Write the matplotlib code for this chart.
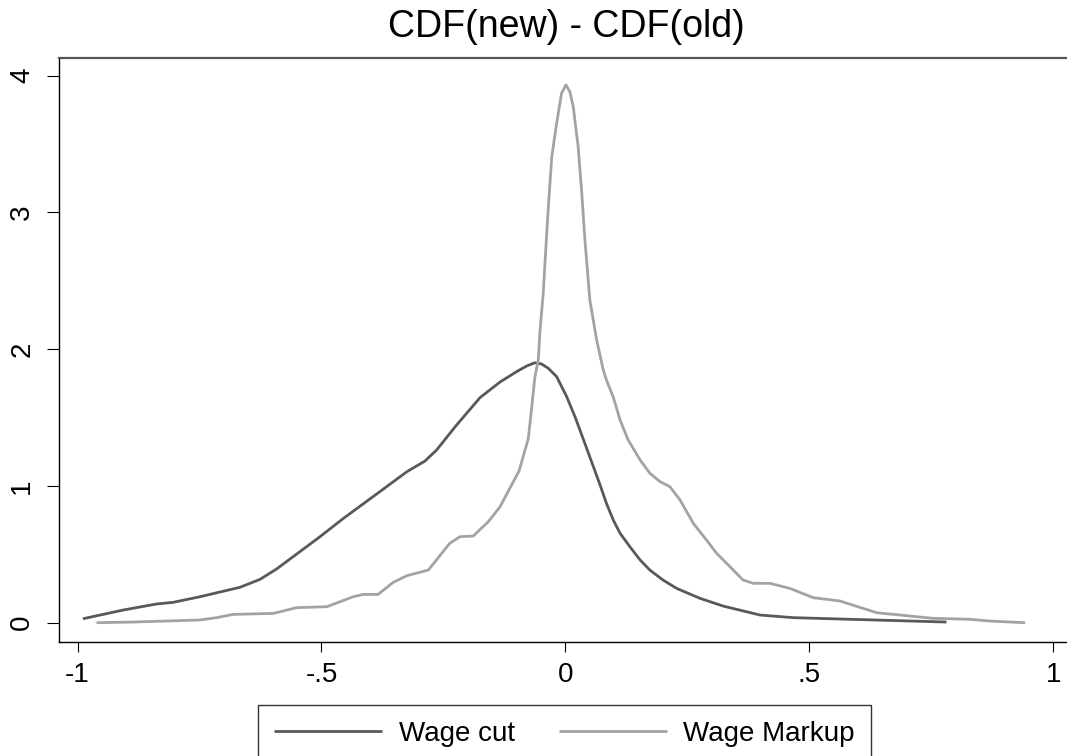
import matplotlib
matplotlib.use("Agg")
import matplotlib.pyplot as plt

# Wage cut series (x, y)
cut_x = [-0.989, -0.906, -0.838, -0.804, -0.749, -0.667, -0.626, -0.592, -0.503,
         -0.455, -0.387, -0.325, -0.288, -0.264, -0.223, -0.175, -0.134, -0.100,
         -0.0795, -0.0625, -0.049, -0.035, -0.018, 0.0025, 0.0195, 0.036, 0.0707,
         0.084, 0.098, 0.112, 0.132, 0.153, 0.173, 0.200, 0.228, 0.276, 0.323,
         0.399, 0.467, 0.583, 0.781]
cut_y = [0.029, 0.093, 0.137, 0.149, 0.190, 0.259, 0.317, 0.393, 0.629,
         0.763, 0.941, 1.104, 1.182, 1.263, 1.446, 1.646, 1.760, 1.836,
         1.877, 1.901, 1.892, 1.860, 1.799, 1.653, 1.507, 1.348, 1.010,
         0.873, 0.751, 0.654, 0.556, 0.459, 0.385, 0.312, 0.251, 0.178, 0.122,
         0.056, 0.037, 0.025, 0.005]

# Wage Markup series (x, y)
mk_x = [-0.961, -0.886, -0.749, -0.715, -0.681, -0.599, -0.551, -0.489, -0.435,
        -0.414, -0.384, -0.353, -0.325, -0.281, -0.237, -0.216, -0.189, -0.158,
        -0.134, -0.114, -0.095, -0.076, -0.069, -0.0625, -0.0557, -0.052, -0.0455,
        -0.040, -0.035, -0.028, -0.018, -0.008, 0.001, 0.009, 0.016, 0.026, 0.033,
        0.040, 0.050, 0.064, 0.0775, 0.084, 0.098, 0.112, 0.128, 0.153, 0.173,
        0.194, 0.214, 0.235, 0.262, 0.289, 0.310, 0.337, 0.364, 0.385, 0.419,
        0.460, 0.508, 0.5625, 0.638, 0.754, 0.829, 0.870, 0.942]
mk_y = [0.000, 0.005, 0.020, 0.037, 0.061, 0.068, 0.110, 0.117, 0.190,
        0.207, 0.207, 0.295, 0.344, 0.385, 0.581, 0.629, 0.634, 0.739,
        0.848, 0.983, 1.110, 1.348, 1.580, 1.799, 1.921, 2.140, 2.409,
        2.750, 3.042, 3.408, 3.652, 3.871, 3.932, 3.883, 3.773, 3.481, 3.164,
        2.798, 2.360, 2.067, 1.848, 1.775, 1.650, 1.482, 1.340, 1.190, 1.093,
        1.031, 0.995, 0.897, 0.727, 0.605, 0.507, 0.410, 0.312, 0.288, 0.288,
        0.251, 0.183, 0.159, 0.073, 0.032, 0.025, 0.012, 0.000]

xticks = [-1, -0.5, 0, 0.5, 1]
xtick_labels = ["-1", "-.5", "0", ".5", "1"]
yticks = [0, 1, 2, 3, 4]
ytick_labels = ["0", "1", "2", "3", "4"]

title = "CDF(new) - CDF(old)"
labels = ["Wage cut", "Wage Markup"]

plt.rcParams['font.family'] = ['Liberation Sans', 'DejaVu Sans']

W, H = 1067, 756
fig = plt.figure(figsize=(W / 100, H / 100), dpi=100)
ax = fig.add_axes([59 / W, 1 - 642 / H, 1 - 59 / W + 0.01, (642 - 58) / H])

ax.plot(cut_x, cut_y, color="#595959", lw=2.0, label=labels[0],
        solid_joinstyle="round", solid_capstyle="butt")
ax.plot(mk_x, mk_y, color="#a3a3a3", lw=2.0, label=labels[1],
        solid_joinstyle="round", solid_capstyle="butt")

ax.set_xlim(-1.038, 1.028 + 0.01 * W / 488)
ax.set_ylim(-0.141, 4.129)

ax.set_xticks(xticks)
ax.set_xticklabels(xtick_labels)
ax.set_yticks(yticks)
ax.set_yticklabels(ytick_labels, rotation=90, va="center")

ax.tick_params(axis="x", direction="out", length=7.2, width=0.8, pad=7.5, labelsize=20, color="black")
ax.tick_params(axis="y", direction="out", length=8.6, width=0.8, pad=8.5, labelsize=20, color="black")

for s in ["left", "bottom"]:
    ax.spines[s].set_color("black")
    ax.spines[s].set_linewidth(1.0)
ax.spines["top"].set_color("#555555")
ax.spines["top"].set_linewidth(1.6)
ax.spines["right"].set_visible(False)

fig.text(566 / W, 1 - 27 / H, title, ha="center", va="center", fontsize=27)

leg = fig.legend(loc="upper left", bbox_to_anchor=(258 / W, 1 - 705 / H),
                 ncol=2, fontsize=20, frameon=True, fancybox=False,
                 edgecolor="black", handlelength=3.9, handletextpad=0.58,
                 columnspacing=1.6, borderpad=0.58, borderaxespad=0.0)
leg.get_frame().set_linewidth(1.0)

fig.savefig("out.png", dpi=100, facecolor="white")
